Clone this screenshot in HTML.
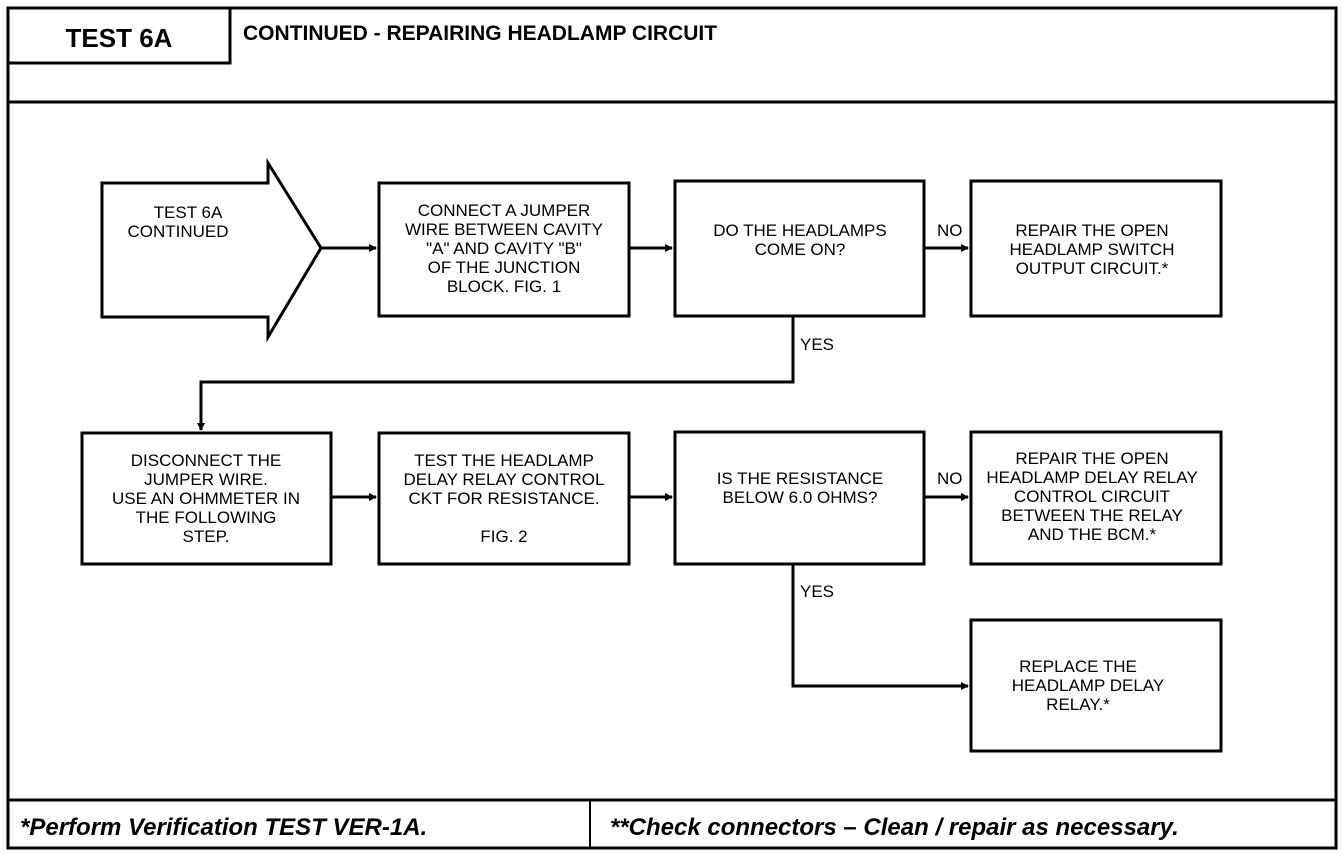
<!DOCTYPE html>
<html><head><meta charset="utf-8"><style>
html,body{margin:0;padding:0;background:#fff;}
svg{display:block;}
.t{font-family:"Liberation Sans",sans-serif;font-size:17px;fill:#000;text-anchor:middle;}
.l{font-family:"Liberation Sans",sans-serif;font-size:17px;fill:#000;}
</style></head><body>
<svg width="1344" height="856" viewBox="0 0 1344 856" xmlns="http://www.w3.org/2000/svg">
<defs><marker id="a" markerWidth="8" markerHeight="8" refX="7" refY="4" orient="auto" markerUnits="userSpaceOnUse"><path d="M0,0 L8,4 L0,8 z" fill="#000"/></marker></defs>
<g fill="none" stroke="#000" stroke-width="3">
<rect x="8" y="8" width="1328" height="840"/>
<rect x="8" y="8" width="222" height="55"/>
<line x1="8" y1="102" x2="1336" y2="102"/>
<line x1="8" y1="800" x2="1336" y2="800"/>
<line x1="590" y1="800" x2="590" y2="848" stroke-width="2"/>
<path d="M102,183 L268,183 L268,163 L321,248 L268,337 L268,317 L102,317 Z"/>
<rect x="379" y="183" width="250" height="133"/>
<rect x="675" y="181" width="249" height="135"/>
<rect x="971" y="181" width="250" height="135"/>
<rect x="82" y="433" width="249" height="131"/>
<rect x="379" y="433" width="250" height="131"/>
<rect x="675" y="432" width="249" height="132"/>
<rect x="971" y="432" width="250" height="132"/>
<rect x="971" y="620" width="250" height="131"/>
<line x1="321" y1="248" x2="376" y2="248" marker-end="url(#a)"/>
<line x1="629" y1="248" x2="672" y2="248" marker-end="url(#a)"/>
<line x1="924" y1="248" x2="968" y2="248" marker-end="url(#a)"/>
<polyline points="793,316 793,382 201,382 201,430" marker-end="url(#a)"/>
<line x1="331" y1="497" x2="376" y2="497" marker-end="url(#a)"/>
<line x1="629" y1="497" x2="672" y2="497" marker-end="url(#a)"/>
<line x1="924" y1="497" x2="968" y2="497" marker-end="url(#a)"/>
<polyline points="793,564 793,686 968,686" marker-end="url(#a)"/>
</g>
<text x="119" y="47" class="t" style="font-size:26px;font-weight:bold">TEST 6A</text>
<text x="243" y="40" class="l" style="font-size:21px;font-weight:bold">CONTINUED - REPAIRING HEADLAMP CIRCUIT</text>
<text x="20" y="835" class="l" style="font-size:24px;font-weight:bold;font-style:italic">*Perform Verification TEST VER-1A.</text>
<text x="610" y="835" class="l" style="font-size:24px;font-weight:bold;font-style:italic">**Check connectors – Clean / repair as necessary.</text>
<text class="t"><tspan x="188" y="218">TEST 6A</tspan><tspan x="178" y="237">CONTINUED</tspan></text>
<text class="t"><tspan x="504" y="216">CONNECT A JUMPER</tspan><tspan x="504" y="235">WIRE BETWEEN CAVITY</tspan><tspan x="504" y="254">"A" AND CAVITY "B"</tspan><tspan x="504" y="273">OF THE JUNCTION</tspan><tspan x="504" y="292">BLOCK. FIG. 1</tspan></text>
<text class="t"><tspan x="800" y="236">DO THE HEADLAMPS</tspan><tspan x="800" y="255">COME ON?</tspan></text>
<text class="t"><tspan x="1092" y="236">REPAIR THE OPEN</tspan><tspan x="1092" y="255">HEADLAMP SWITCH</tspan><tspan x="1092" y="274">OUTPUT CIRCUIT.*</tspan></text>
<text class="l" x="937" y="236">NO</text>
<text class="l" x="800" y="350">YES</text>
<text class="t"><tspan x="206" y="466">DISCONNECT THE</tspan><tspan x="206" y="485">JUMPER WIRE.</tspan><tspan x="206" y="504">USE AN OHMMETER IN</tspan><tspan x="206" y="523">THE FOLLOWING</tspan><tspan x="206" y="542">STEP.</tspan></text>
<text class="t"><tspan x="504" y="466">TEST THE HEADLAMP</tspan><tspan x="504" y="485">DELAY RELAY CONTROL</tspan><tspan x="504" y="504">CKT FOR RESISTANCE.</tspan><tspan x="504" y="542">FIG. 2</tspan></text>
<text class="t"><tspan x="800" y="484">IS THE RESISTANCE</tspan><tspan x="800" y="503">BELOW 6.0 OHMS?</tspan></text>
<text class="l" x="937" y="484">NO</text>
<text class="t"><tspan x="1092" y="464">REPAIR THE OPEN</tspan><tspan x="1092" y="483">HEADLAMP DELAY RELAY</tspan><tspan x="1092" y="502">CONTROL CIRCUIT</tspan><tspan x="1092" y="521">BETWEEN THE RELAY</tspan><tspan x="1092" y="540">AND THE BCM.*</tspan></text>
<text class="l" x="800" y="597">YES</text>
<text class="t"><tspan x="1078" y="672">REPLACE THE</tspan><tspan x="1088" y="691">HEADLAMP DELAY</tspan><tspan x="1078" y="710">RELAY.*</tspan></text>
</svg>
</body></html>
